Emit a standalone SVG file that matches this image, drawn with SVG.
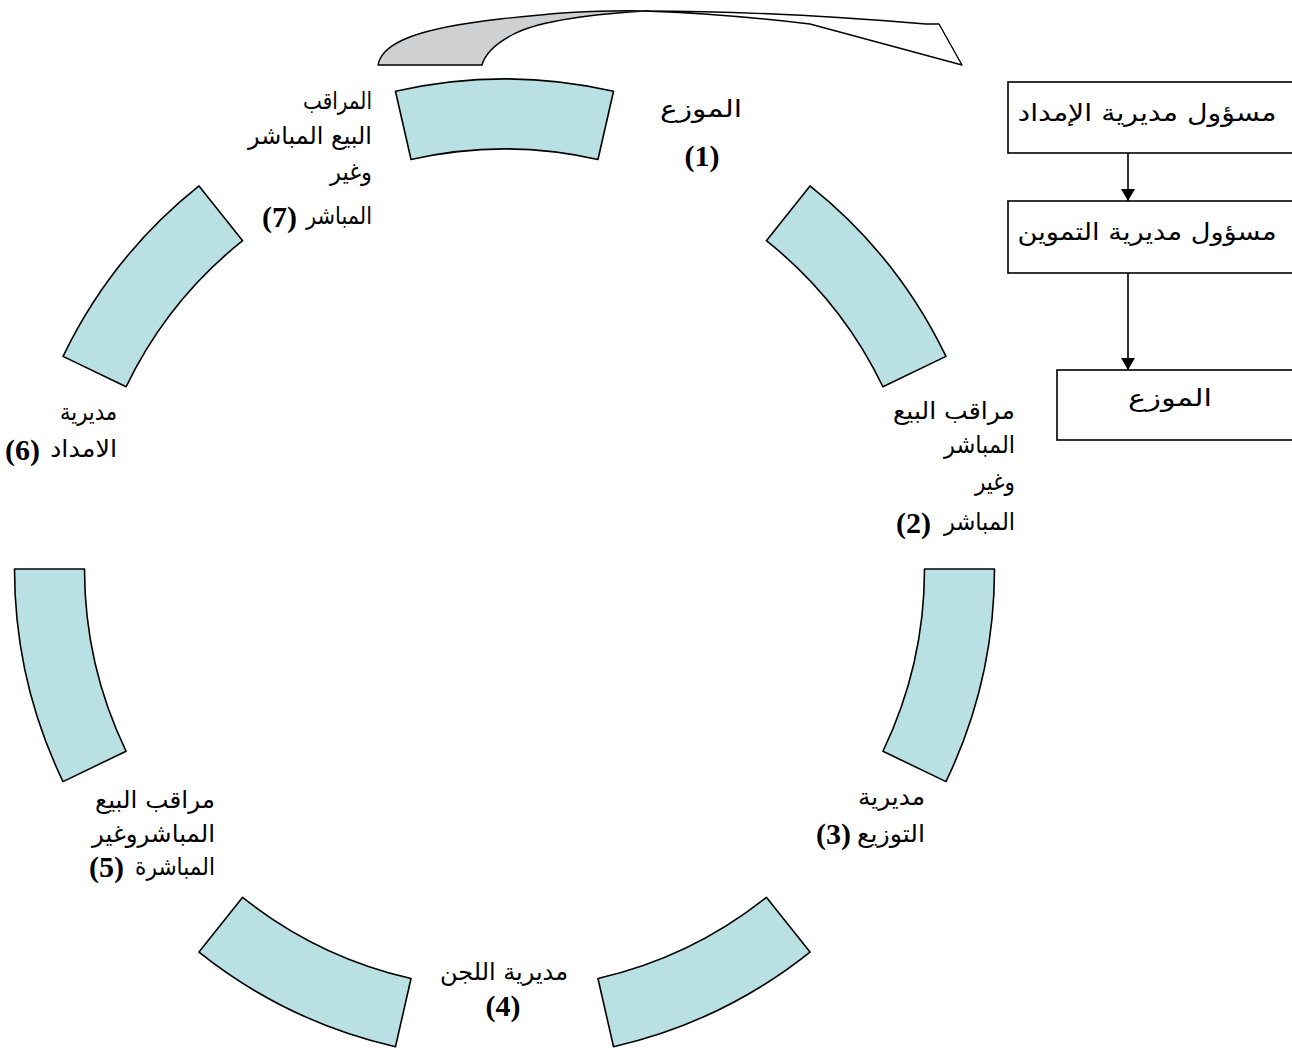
<svg xmlns="http://www.w3.org/2000/svg" width="1292" height="1048" viewBox="0 0 1292 1048">
  <style>
    .seg { fill: #B9E0E3; stroke: #000; stroke-width: 1.6; stroke-linejoin: round; }
    .ar { font-family: "DejaVu Sans", sans-serif; font-size: 24px; fill: #000; }
    .num { font-family: "Liberation Serif", serif; font-weight: bold; font-size: 30px; fill: #000; }
    .box { fill: #fff; stroke: #000; stroke-width: 1.6; }
    .conn { stroke: #000; stroke-width: 1.6; fill: none; }
    .band { stroke: #000; stroke-width: 1.4; stroke-linejoin: round; }
  </style>
  <defs>
    <marker id="arrowhead" viewBox="0 0 12 14" refX="12" refY="7" markerWidth="12" markerHeight="14" markerUnits="userSpaceOnUse" orient="auto">
      <path d="M0,0 L12,7 L0,14 Z" fill="#000"/>
    </marker>
  </defs>

  <rect width="1292" height="1048" fill="#fff"/>

  <!-- curved arrow over the top of the cycle -->
  <g id="cycle-arrow">
    <path class="band" fill="#CED0D2" d="M378,65 C382,42 420,28 500,19 C560,12 610,10 645,11 C580,15 535,22 512,35 C495,44 485,54 482,65 Z"/>
    <path class="band" fill="#fff" d="M645,11 C730,11 830,16 926,24 L939,24 L962,65 L810,24 C760,18 700,13 645,11 Z"/>
  </g>

  <!-- cycle segments with their labels -->
  <g id="node-1">
    <path class="seg" d="M395.47,91.28 A490,490 0 0 1 613.53,91.28 L597.96,159.53 A420,420 0 0 0 411.04,159.53 Z"/>
    <text class="ar" x="701" y="117" text-anchor="middle" font-size="32" textLength="82" lengthAdjust="spacingAndGlyphs">الموزع</text>
    <text class="num" x="702" y="166" text-anchor="middle" font-size="33">(1)</text>
  </g>
  <g id="node-2">
    <path class="seg" d="M810.01,185.90 A490,490 0 0 1 945.98,356.40 L882.91,386.77 A420,420 0 0 0 766.37,240.63 Z"/>
    <text class="ar" x="1015" y="419" text-anchor="end" textLength="122" lengthAdjust="spacingAndGlyphs">مراقب البيع</text>
    <text class="ar" x="1015" y="453" text-anchor="end" textLength="71" lengthAdjust="spacingAndGlyphs">المباشر</text>
    <text class="ar" x="1015" y="490" text-anchor="end" textLength="40" lengthAdjust="spacingAndGlyphs">وغير</text>
    <text class="ar" x="1015" y="530" text-anchor="end" textLength="71" lengthAdjust="spacingAndGlyphs">المباشر</text>
    <text class="num" x="931" y="533" text-anchor="end">(2)</text>
  </g>
  <g id="node-3">
    <path class="seg" d="M994.5,569 A490,490 0 0 1 945.98,781.60 L882.91,751.23 A420,420 0 0 0 924.5,569 Z"/>
    <text class="ar" x="925" y="805" text-anchor="end" textLength="67" lengthAdjust="spacingAndGlyphs">مديرية</text>
    <text class="ar" x="925" y="842" text-anchor="end" textLength="68" lengthAdjust="spacingAndGlyphs">التوزيع</text>
    <text class="num" x="851" y="844" text-anchor="end">(3)</text>
  </g>
  <g id="node-4">
    <path class="seg" d="M810.01,952.10 A490,490 0 0 1 613.53,1046.72 L597.96,978.47 A420,420 0 0 0 766.37,897.37 Z"/>
    <text class="ar" x="504" y="980" text-anchor="middle" textLength="128" lengthAdjust="spacingAndGlyphs">مديرية اللجن</text>
    <text class="num" x="503" y="1016" text-anchor="middle">(4)</text>
  </g>
  <g id="node-5">
    <path class="seg" d="M395.47,1046.72 A490,490 0 0 1 198.99,952.10 L242.63,897.37 A420,420 0 0 0 411.04,978.47 Z"/>
    <text class="ar" x="215" y="808" text-anchor="end" textLength="120" lengthAdjust="spacingAndGlyphs">مراقب البيع</text>
    <text class="ar" x="215" y="842" text-anchor="end" textLength="123" lengthAdjust="spacingAndGlyphs">المباشروغير</text>
    <text class="ar" x="215" y="875" text-anchor="end" textLength="80" lengthAdjust="spacingAndGlyphs">المباشرة</text>
    <text class="num" x="124" y="877" text-anchor="end">(5)</text>
  </g>
  <g id="node-6">
    <path class="seg" d="M63.02,781.60 A490,490 0 0 1 14.5,569 L84.5,569 A420,420 0 0 0 126.09,751.23 Z"/>
    <text class="ar" x="117" y="420" text-anchor="end" textLength="57" lengthAdjust="spacingAndGlyphs">مديرية</text>
    <text class="ar" x="117" y="457" text-anchor="end" textLength="67" lengthAdjust="spacingAndGlyphs">الامداد</text>
    <text class="num" x="40" y="460" text-anchor="end">(6)</text>
  </g>
  <g id="node-7">
    <path class="seg" d="M63.02,356.40 A490,490 0 0 1 198.99,185.90 L242.63,240.63 A420,420 0 0 0 126.09,386.77 Z"/>
    <text class="ar" x="372" y="109" text-anchor="end" textLength="69" lengthAdjust="spacingAndGlyphs">المراقب</text>
    <text class="ar" x="372" y="144" text-anchor="end" textLength="124" lengthAdjust="spacingAndGlyphs">البيع المباشر</text>
    <text class="ar" x="372" y="180" text-anchor="end" textLength="42" lengthAdjust="spacingAndGlyphs">وغير</text>
    <text class="ar" x="372" y="224" text-anchor="end" textLength="66" lengthAdjust="spacingAndGlyphs">المباشر</text>
    <text class="num" x="297" y="227" text-anchor="end">(7)</text>
  </g>

  <!-- hierarchy boxes on the right -->
  <g id="box-supply">
    <rect class="box" x="1008" y="82" width="290" height="71"/>
    <text class="ar" x="1147" y="121" text-anchor="middle" font-size="26" textLength="259" lengthAdjust="spacingAndGlyphs">مسؤول مديرية الإمداد</text>
  </g>
  <g id="box-provision">
    <rect class="box" x="1008" y="201" width="290" height="72"/>
    <text class="ar" x="1147" y="240" text-anchor="middle" font-size="26" textLength="259" lengthAdjust="spacingAndGlyphs">مسؤول مديرية التموين</text>
  </g>
  <g id="box-distributor">
    <rect class="box" x="1057" y="370" width="240" height="70"/>
    <text class="ar" x="1170" y="406" text-anchor="middle" font-size="30" textLength="84" lengthAdjust="spacingAndGlyphs">الموزع</text>
  </g>

  <g id="connectors">
    <line class="conn" x1="1128" y1="153" x2="1128" y2="201" marker-end="url(#arrowhead)"/>
    <line class="conn" x1="1128" y1="273" x2="1128" y2="370" marker-end="url(#arrowhead)"/>
  </g>
</svg>
